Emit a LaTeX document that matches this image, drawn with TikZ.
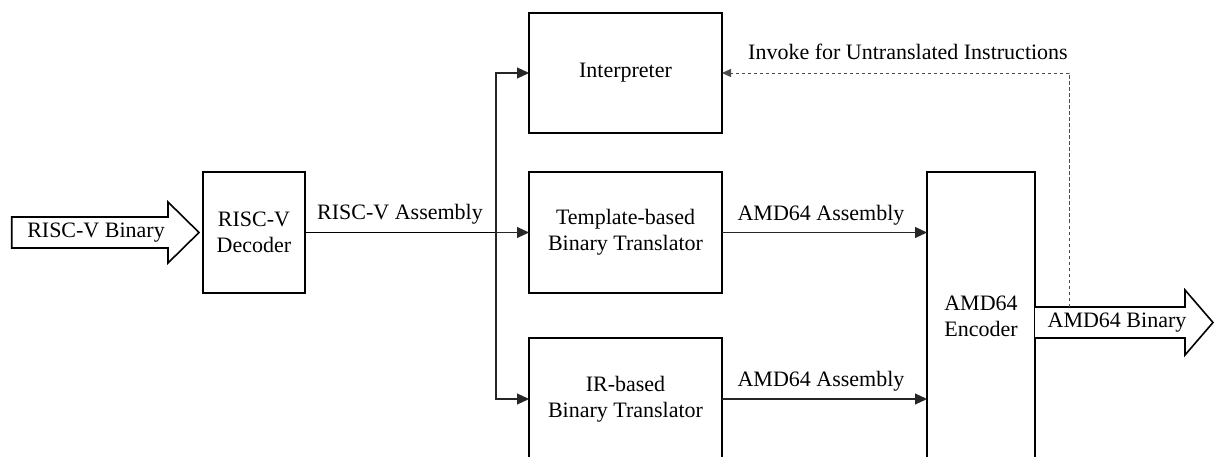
\documentclass[tikz,border=0pt]{standalone}
\usepackage{fontspec}
\setmainfont{Liberation Serif}
\usetikzlibrary{arrows.meta}
\begin{document}
\begin{tikzpicture}[x=1pt,y=-1pt,
  font=\fontsize{22}{26}\selectfont,
  blk/.style={draw=black,line width=1.6pt,align=center,inner sep=0pt,outer sep=0pt,fill=white},
  conn/.style={draw=black!85,line width=1.1pt,-{Triangle[length=12pt,width=11pt]}},
  dotconn/.style={draw=black!70,line width=0.9pt,dash pattern=on 3.5pt off 2.5pt,-{Triangle[length=9pt,width=8pt]}},
  bigarrow/.style={draw=black,line width=1.6pt,fill=white,line join=miter},
  lbl/.style={inner sep=0pt}]
\useasboundingbox (0,0) rectangle (1215,457);
% block arrows
\draw[bigarrow] (11.7,217) -- (168,217) -- (168,202) -- (199,232.5) -- (168,263) -- (168,248) -- (11.7,248) -- cycle;
\node[lbl] (inlbl) at (96,232.5) {RISC-V Binary};
% boxes
\node[blk,minimum width=102pt,minimum height=121pt] (dec) at (254,232.5) {RISC-V\\Decoder};
\node[blk,minimum width=193pt,minimum height=120pt] (interp) at (625.5,73) {Interpreter};
\node[blk,minimum width=193pt,minimum height=121pt] (tmpl) at (625.5,232.5) {Template-based\\Binary Translator};
\node[blk,minimum width=193pt,minimum height=122pt] (ir) at (625.5,399) {IR-based\\Binary Translator};
\node[blk,minimum width=108pt,minimum height=288pt] (enc) at (981,316) {AMD64\\Encoder};
% output arrow
\draw[bigarrow] (enc.east |- 0,307) -- (1185,307) -- (1185,290) -- (1213,322.5) -- (1185,355) -- (1185,338) -- (enc.east |- 0,338);
\node[lbl] (outlbl) at (1117,322.5) {AMD64 Binary};
% connectors
\coordinate (j) at (496,232.5);
\draw[black,line width=1.3pt] (dec.east) -- (j);
\draw[conn] (j) -- (tmpl.west);
\draw[conn] (j) |- (interp.west);
\draw[conn] (j) |- (ir.west);
\node[lbl] (asm) at (400,214) {RISC-V Assembly};
\draw[conn] (tmpl.east) -- (tmpl.east -| enc.west);
\draw[conn] (ir.east) -- (ir.east -| enc.west);
\node[lbl] (a1) at (821,215) {AMD64 Assembly};
\node[lbl] (a2) at (821,381) {AMD64 Assembly};
\coordinate (fb) at (1069,307);
\draw[dotconn] (fb) |- (interp.east);
\node[lbl] (inv) at (908,52) {Invoke for Untranslated Instructions};
\end{tikzpicture}
\end{document}
